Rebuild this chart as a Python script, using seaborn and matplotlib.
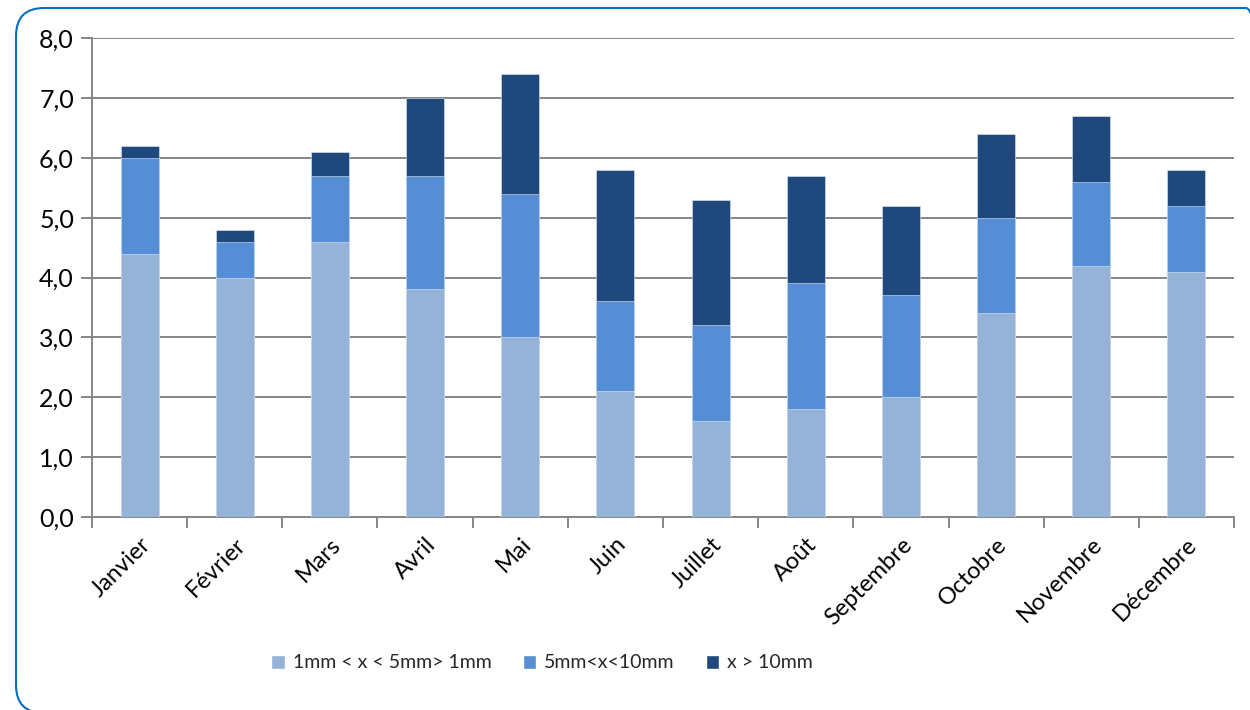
import matplotlib
matplotlib.use("Agg")
import matplotlib.pyplot as plt
from matplotlib.patches import FancyBboxPatch, Patch
from matplotlib.ticker import FuncFormatter, FixedLocator
import seaborn as sns
import pandas as pd
import numpy as np

# data
mois = ["Janvier", "Février", "Mars", "Avril", "Mai", "Juin", "Juillet",
        "Août", "Septembre", "Octobre", "Novembre", "Décembre"]
petite = [4.4, 4.0, 4.6, 3.8, 3.0, 2.1, 1.6, 1.8, 2.0, 3.4, 4.2, 4.1]
moyenne = [1.6, 0.6, 1.1, 1.9, 2.4, 1.5, 1.6, 2.1, 1.7, 1.6, 1.4, 1.1]
forte = [0.2, 0.2, 0.4, 1.3, 2.0, 2.2, 2.1, 1.8, 1.5, 1.4, 1.1, 0.6]
series = ["1mm < x < 5mm> 1mm", "5mm<x<10mm", "x > 10mm"]
couleurs = ["#95B3D7", "#558ED5", "#1F497D"]

df = pd.DataFrame({"mois": mois, "petite": petite, "moyenne": moyenne, "forte": forte})
df["c1"] = df["petite"]
df["c2"] = df["c1"] + df["moyenne"]
df["c3"] = df["c2"] + df["forte"]

sns.set_theme(style="white")
plt.rcParams["font.family"] = ["Lato", "DejaVu Sans"]

fig = plt.figure(figsize=(12.5, 7.1), dpi=100)
ax = fig.add_axes([92 / 1250, 1 - 517 / 710, (1234 - 92) / 1250, (517 - 38) / 710])

# stacked bars: draw cumulative totals from top to bottom
for col, c in zip(["c3", "c2", "c1"], couleurs[::-1]):
    sns.barplot(data=df, x="mois", y=col, color=c, width=0.4, ax=ax,
                saturation=1, edgecolor="#dfe8f3", linewidth=0.4, zorder=3)

ax.set_ylim(0, 8)
ax.set_xlim(-0.5, 11.5)
ax.set_yticks(np.arange(0, 8.1, 1))
ax.yaxis.set_major_formatter(FuncFormatter(lambda v, p: f"{v:.1f}".replace(".", ",")))
ax.grid(axis="y", color="#868686", linewidth=1.4, zorder=0)
ax.set_axisbelow(True)
ax.set_xlabel("")
ax.set_ylabel("")

for s in ["top", "right"]:
    ax.spines[s].set_visible(False)
for s in ["left", "bottom"]:
    ax.spines[s].set_color("#868686")
    ax.spines[s].set_linewidth(1.4)

ax.tick_params(axis="y", which="major", left=True, length=8, width=1.4,
               color="#868686", labelsize=18, pad=5, labelcolor="black")
ax.xaxis.set_minor_locator(FixedLocator(np.arange(-0.5, 12, 1)))
ax.tick_params(axis="x", which="minor", bottom=True, length=8, width=1.4, color="#868686")
ax.tick_params(axis="x", which="major", bottom=False, length=0, labelsize=17, pad=12,
               labelcolor="black")
plt.setp(ax.get_xticklabels(), rotation=45, ha="right", rotation_mode="anchor")

handles = [Patch(facecolor=c, label=l) for c, l in zip(couleurs, series)]
fig.legend(handles=handles, loc="center", bbox_to_anchor=(542 / 1250, 1 - 663 / 710),
           ncol=3, frameon=False, fontsize=14, handlelength=0.7, handleheight=0.7,
           handletextpad=0.4, columnspacing=1.6)

# rounded frame around the chart (right side runs past the image edge)
cadre = FancyBboxPatch((16, -3), 1258, 705, boxstyle="round,pad=0,rounding_size=28",
                       transform=None, facecolor="none", edgecolor="#0070C0",
                       linewidth=1.5, clip_on=False)
fig.patches.append(cadre)

fig.savefig("out.png", dpi=100)
